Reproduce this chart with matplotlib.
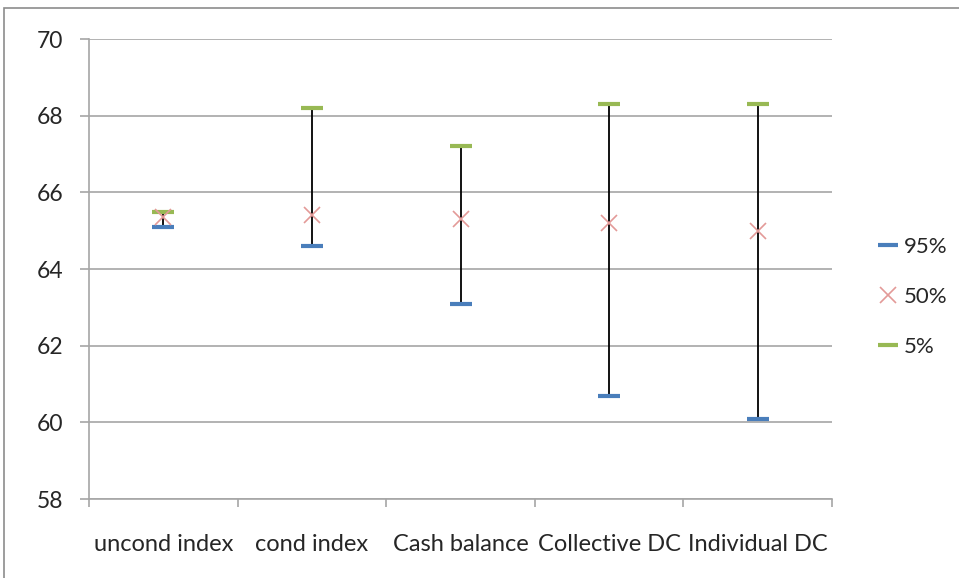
import matplotlib
matplotlib.use('Agg')
import matplotlib.pyplot as plt
from matplotlib.lines import Line2D
from matplotlib.patches import Rectangle
import numpy as np

# ── Data ──
categories = ['uncond index', 'cond index', 'Cash balance', 'Collective DC', 'Individual DC']
p95 = [65.1, 64.6, 63.1, 60.7, 60.1]
p50 = [65.35, 65.4, 65.3, 65.2, 65.0]
p5  = [65.5, 68.2, 67.2, 68.3, 68.3]

# ── Style ──
plt.rcParams['font.family'] = ['Lato', 'DejaVu Sans']
blue = '#4A7EBB'
pink = '#E39A98'
green = '#98B954'
grid = '#A6A6A6'

fig = plt.figure(figsize=(9.59, 5.78), dpi=100)
ax = fig.add_axes([89/959, 1 - 499/578, (832 - 89)/959, (499 - 39)/578])

# chart-area border
fig.patches.append(Rectangle((4/959, -0.1), 1.2, 1 - 8/578 + 0.1, transform=fig.transFigure,
                             fill=False, edgecolor='#8C8C8C', linewidth=1.2))

x = np.arange(len(categories))
ax.vlines(x, p95, p5, color='black', linewidth=1.3, zorder=2)
ax.plot(x, p95, linestyle='none', marker='_', markersize=16, mew=3, color=blue, zorder=3)
ax.plot(x, p5, linestyle='none', marker='_', markersize=16, mew=3, color=green, zorder=3)
ax.plot(x, p50, linestyle='none', marker='x', markersize=11, mew=1.2, color=pink, zorder=4)

ax.set_ylim(58, 70)
ax.set_yticks(np.arange(58, 71, 2))
ax.set_xlim(-0.5, len(categories) - 0.5)
ax.set_xticks(np.arange(-0.5, len(categories), 1))
ax.set_xticklabels([])
ax.set_xticks(x, minor=True)
ax.set_xticklabels(categories, minor=True)
ax.tick_params(axis='x', which='major', length=6, color=grid, width=1.2)
ax.tick_params(axis='x', which='minor', length=0, pad=25, labelsize=17, labelcolor='#262626')
ax.tick_params(axis='y', length=6.5, color=grid, width=1.2, pad=12, labelsize=16.5, labelcolor='#262626')

ax.grid(axis='y', color=grid, linewidth=1.2)
ax.set_axisbelow(True)
for s in ['top', 'right']:
    ax.spines[s].set_visible(False)
for s in ['left', 'bottom']:
    ax.spines[s].set_color(grid)
    ax.spines[s].set_linewidth(1.2)

handles = [
    Line2D([], [], linestyle='none', marker='_', markersize=14, mew=3, color=blue),
    Line2D([], [], linestyle='none', marker='x', markersize=11, mew=1.2, color=pink),
    Line2D([], [], linestyle='none', marker='_', markersize=14, mew=3, color=green),
]
fig.legend(handles, ['95%', '50%', '5%'], loc='center left',
           bbox_to_anchor=(868/959, 1 - 297/578), frameon=False, fontsize=16,
           labelcolor='#262626', handlelength=0.8, handletextpad=0.3,
           labelspacing=1.35, borderpad=0)

fig.savefig('out.png', dpi=100)
